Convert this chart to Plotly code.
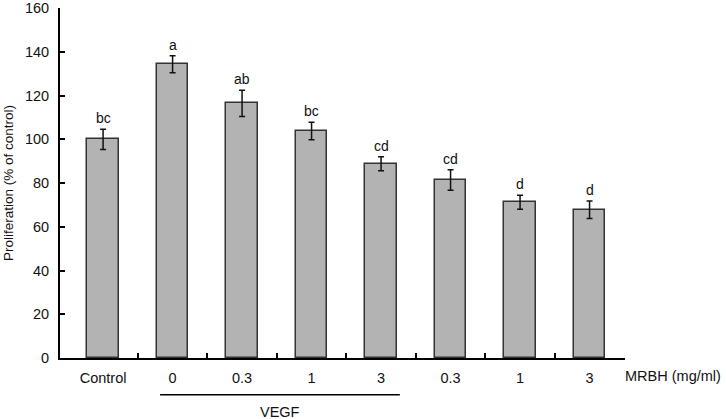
import plotly.graph_objects as go

categories = ["Control", "0", "0.3", "1", "3", "0.3", "1", "3"]
means = [100.0, 134.3, 116.4, 103.8, 88.8, 81.4, 71.2, 67.8]
sds = [4.6, 3.9, 6.0, 4.0, 3.2, 4.7, 3.2, 4.0]
letters = ["bc", "a", "ab", "bc", "cd", "cd", "d", "d"]
y_ticks = [0, 20, 40, 60, 80, 100, 120, 140, 160]
group_label = "VEGF"
group_members = [1, 2, 3, 4]
unit_label = "MRBH (mg/ml)"
y_title = "Proliferation (% of control)"

FONT = "Liberation Sans, Arial, sans-serif"
xs = list(range(len(categories)))
boundaries = [i + 0.5 for i in xs]

fig = go.Figure()
fig.add_trace(go.Bar(
    x=xs, y=means, width=0.45,
    marker=dict(color="#b3b3b3", line=dict(color="#333333", width=1.5)),
    error_y=dict(type="data", array=sds, visible=True, color="#111111",
                 thickness=1.5, width=3),
    showlegend=False,
))

for x, m, s, t in zip(xs, means, sds, letters):
    fig.add_annotation(x=x, y=m + s, text=t, showarrow=False,
                       yanchor="bottom", yshift=1,
                       font=dict(family=FONT, size=14, color="#111111"))

# group line + label
x0 = group_members[0] - 0.18
x1 = group_members[-1] - 0.73 + 1
fig.add_shape(type="line", xref="x", yref="paper", x0=x0, x1=x1,
              y0=-0.105, y1=-0.105, line=dict(color="black", width=1.5))
fig.add_annotation(xref="x", yref="paper", x=(x0 + x1) / 2, y=-0.153,
                   text=group_label, showarrow=False, yanchor="middle",
                   font=dict(family=FONT, size=14.5, color="#111111"))
fig.add_annotation(xref="paper", yref="paper", x=1, y=-0.051, xshift=-2,
                   text=unit_label, showarrow=False, xanchor="left",
                   yanchor="middle",
                   font=dict(family=FONT, size=14.5, color="#111111"))

fig.update_layout(
    width=726, height=419,
    margin=dict(l=60, r=101, t=8, b=61, autoexpand=False),
    plot_bgcolor="white", paper_bgcolor="white",
    font=dict(family=FONT, size=14, color="#111111"),
    bargap=0,
)
fig.update_xaxes(
    range=[-0.62, 7.51], tickvals=xs, ticktext=categories,
    ticks="inside", ticklen=0, tickcolor="black",
    showline=True, linecolor="black", linewidth=2,
    showgrid=False, zeroline=False, ticklabelstandoff=6,
    tickfont=dict(size=14.5),
    minor=dict(tickvals=boundaries, ticks="inside",
               ticklen=5, tickwidth=2, tickcolor="black", showgrid=False),
)
fig.update_yaxes(
    range=[0, 160.05], tickvals=y_ticks, ticks="inside", ticklen=5,
    tickwidth=2, tickcolor="black", showline=True, linecolor="black",
    linewidth=2, showgrid=False, zeroline=False, ticklabelstandoff=6,
    tickfont=dict(size=14.5), automargin=False, ticklabeloverflow="allow",
    title=dict(text=y_title, standoff=8, font=dict(size=13.5)),
)

fig.write_html("out.html", config={"displayModeBar": False},
               post_script="document.body.style.margin='0';document.body.style.overflow='hidden';")
